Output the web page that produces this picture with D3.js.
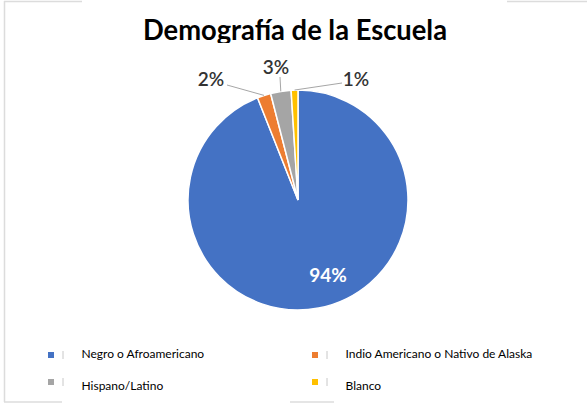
<!DOCTYPE html>
<html><head><meta charset="utf-8">
<script src="https://cdn.jsdelivr.net/npm/d3@7"></script>
<style>html,body{margin:0;padding:0;background:#fff;overflow:hidden}</style>
</head><body>
<svg id="chart" width="587" height="404"></svg>
<script>
const title = "Demografía de la Escuela";
const categories = ["Negro o Afroamericano", "Indio Americano o Nativo de Alaska", "Hispano/Latino", "Blanco"];
const values = [94, 2, 3, 1];
const labels = ["94%", "2%", "3%", "1%"];
const colors = ["#4472C4", "#ED7D31", "#A5A5A5", "#FFC000"];

const svg = d3.select("#chart");
const cx = 298, cy = 200, r = 110;
const font = "Lato, 'Open Sans', sans-serif";

// faint frame remnants
const frame = svg.append("g").attr("stroke", "#dcdcdc").attr("stroke-width", 1.5).attr("fill", "none");
frame.append("line").attr("x1", 4.5).attr("y1", 1).attr("x2", 4.5).attr("y2", 402);
frame.append("line").attr("x1", 4).attr("y1", 1.5).attr("x2", 82).attr("y2", 1.5);
frame.append("line").attr("x1", 507).attr("y1", 1.5).attr("x2", 587).attr("y2", 1.5);
frame.append("line").attr("x1", 4).attr("y1", 402).attr("x2", 62).attr("y2", 402);
frame.append("line").attr("x1", 290).attr("y1", 402).attr("x2", 334).attr("y2", 402);

// title (clipped at bottom like the reference)
svg.append("clipPath").attr("id", "tclip").append("rect").attr("x", 0).attr("y", 0).attr("width", 587).attr("height", 43);
svg.append("text").attr("clip-path", "url(#tclip)")
  .attr("x", 295).attr("y", 40).attr("text-anchor", "middle")
  .attr("font-family", font).attr("font-weight", "bold")
  .attr("font-size", 28).attr("fill", "#000")
  .attr("textLength", 304).attr("lengthAdjust", "spacingAndGlyphs")
  .text(title);

// pie
const data = categories.map((c, i) => ({cat: c, value: values[i], label: labels[i], color: colors[i]}));
const pie = d3.pie().value(d => d.value).sort(null);
const arcs = pie(data);
const arc = d3.arc().innerRadius(0).outerRadius(r);
const g = svg.append("g").attr("transform", `translate(${cx},${cy})`);
g.selectAll("path").data(arcs).join("path")
  .attr("d", arc).attr("fill", d => d.data.color)
  .attr("stroke", "#fff").attr("stroke-width", 1.5);

// inside label for the big slice
const inner = arcs[0];
const innerAngle = 158 * Math.PI / 180, innerR = 80;
g.append("text")
  .attr("x", innerR * Math.sin(innerAngle)).attr("y", -innerR * Math.cos(innerAngle))
  .attr("text-anchor", "middle").attr("dominant-baseline", "central")
  .attr("font-family", font).attr("font-size", 19).attr("font-weight", "bold")
  .attr("fill", "#fff").text(inner.data.label);

// outside labels with leader lines
const outside = [
  {i: 1, lx: -87, ly: -122, ax: -71, ay: -115},
  {i: 2, lx: -22, ly: -134, ax: -18, ay: -123},
  {i: 3, lx: 58, ly: -122, ax: 44, ay: -117}
];
outside.forEach(o => {
  const a = arcs[o.i];
  const mid = (a.startAngle + a.endAngle) / 2;
  const px = r * Math.sin(mid), py = -r * Math.cos(mid);
  g.append("line").attr("x1", o.ax).attr("y1", o.ay).attr("x2", px).attr("y2", py)
    .attr("stroke", "#a6a6a6").attr("stroke-width", 1);
  g.append("text").attr("x", o.lx).attr("y", o.ly)
    .attr("text-anchor", "middle").attr("dominant-baseline", "central")
    .attr("font-family", font).attr("font-size", 19).attr("font-weight", 600)
    .attr("fill", "#333").text(a.data.label);
});

// legend
const legPos = [[48, 355, 353], [312, 355, 353], [48, 382, 385], [312, 382, 385]];
const leg = svg.append("g");
data.forEach((d, i) => {
  const [x, y, ty] = legPos[i];
  leg.append("rect").attr("x", x).attr("y", y - 3).attr("width", 6).attr("height", 6).attr("fill", d.color);
  leg.append("line").attr("x1", x + 15).attr("y1", y - 4).attr("x2", x + 15).attr("y2", y + 4)
    .attr("stroke", "#c8c8c8").attr("stroke-width", 1);
  leg.append("text").attr("x", x + 33.5).attr("y", ty).attr("dominant-baseline", "central")
    .attr("font-family", font).attr("font-size", 12)
    .attr("fill", "#000").text(d.cat);
});
</script>
</body></html>
